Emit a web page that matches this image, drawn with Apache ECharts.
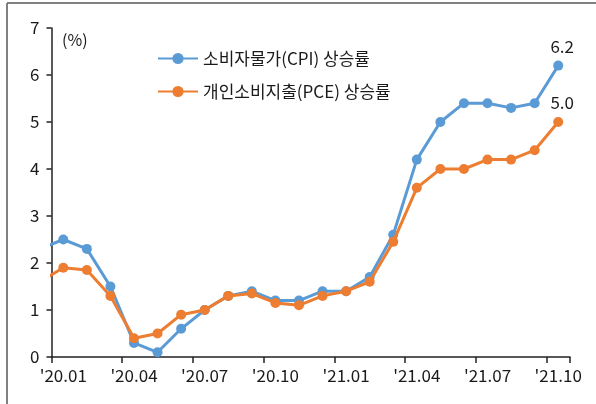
<!DOCTYPE html>
<html>
<head>
<meta charset="utf-8">
<script src="https://cdn.jsdelivr.net/npm/echarts@6/dist/echarts.min.js"></script>
<style>
html,body{margin:0;padding:0;background:#fff;}
#chart{width:596px;height:404px;}
</style>
</head>
<body>
<div id="chart"></div>
<script>
// categories ('19.12 is only used for the clipped lead-in segment)
const categories = ["'19.12","'20.01","'20.02","'20.03","'20.04","'20.05","'20.06","'20.07","'20.08","'20.09","'20.10","'20.11","'20.12","'21.01","'21.02","'21.03","'21.04","'21.05","'21.06","'21.07","'21.08","'21.09","'21.10"];
const cpiValues = [2.3, 2.5, 2.3, 1.5, 0.3, 0.1, 0.6, 1.0, 1.3, 1.4, 1.2, 1.2, 1.4, 1.4, 1.7, 2.6, 4.2, 5.0, 5.4, 5.4, 5.3, 5.4, 6.2];
const pceValues = [1.6, 1.9, 1.85, 1.3, 0.4, 0.5, 0.9, 1.0, 1.3, 1.35, 1.15, 1.1, 1.3, 1.4, 1.6, 2.45, 3.6, 4.0, 4.0, 4.2, 4.2, 4.4, 5.0];
const cpiName = '소비자물가(CPI) 상승률';
const pceName = '개인소비지출(PCE) 상승률';
const yTicks = [0, 7, 1];

const FONT = '"Noto Sans CJK KR", "Noto Sans", sans-serif';
const TXT = '#1a1a1a';

function withEndLabel(vals) {
  return vals.map((v, i) => i === vals.length - 1
    ? { value: v, label: { show: true, position: 'top', offset: [4, -1], formatter: (p) => p.value.toFixed(1), fontSize: 17, fontFamily: FONT, color: TXT } }
    : v);
}
const showIdx = (idx) => idx >= 1 && (idx - 1) % 3 === 0;

const chart = echarts.init(document.getElementById('chart'), null, { renderer: 'canvas' });
chart.setOption({
  animation: false,
  backgroundColor: '#fff',
  grid: { left: 51.5, right: 26, top: 28, bottom: 47, containLabel: false },
  legend: {
    orient: 'vertical', left: 152, top: 45, itemWidth: 40, itemHeight: 14, itemGap: 16,
    textStyle: { fontSize: 17, fontFamily: FONT, color: TXT },
    data: [cpiName, pceName]
  },
  xAxis: {
    type: 'category', data: categories, min: 1, boundaryGap: true,
    axisLine: { lineStyle: { color: '#222', width: 1.5 } },
    axisTick: { show: true, length: 6, interval: showIdx, alignWithLabel: false, lineStyle: { color: '#222', width: 1.5 } },
    axisLabel: { interval: showIdx, fontSize: 17, fontFamily: FONT, color: TXT, margin: 10 },
    splitLine: { show: false }
  },
  yAxis: {
    type: 'value', min: yTicks[0], max: yTicks[1], interval: yTicks[2],
    axisLine: { show: true, lineStyle: { color: '#222', width: 1.5 } },
    axisTick: { show: true, length: 5, lineStyle: { color: '#222', width: 1.5 } },
    axisLabel: { fontSize: 17, fontFamily: FONT, color: TXT, margin: 12 },
    splitLine: { show: false }
  },
  series: [
    { name: cpiName, type: 'line', data: withEndLabel(cpiValues), clip: true,
      symbol: 'circle', symbolSize: 10, itemStyle: { color: '#5B9BD5' },
      lineStyle: { width: 3, color: '#5B9BD5' }, z: 3 },
    { name: pceName, type: 'line', data: withEndLabel(pceValues), clip: true,
      symbol: 'circle', symbolSize: 10, itemStyle: { color: '#ED7D31' },
      lineStyle: { width: 3, color: '#ED7D31' }, z: 4 }
  ],
  graphic: [
    { type: 'text', left: 62, top: 32, style: { text: '(%)', fontSize: 16, fontFamily: FONT, fill: TXT } },
    { type: 'line', shape: { x1: 7, y1: 3, x2: 596, y2: 3 }, style: { stroke: '#808080', lineWidth: 2 } },
    { type: 'line', shape: { x1: 7, y1: 3, x2: 7, y2: 404 }, style: { stroke: '#808080', lineWidth: 2 } }
  ]
});
</script>
</body>
</html>
